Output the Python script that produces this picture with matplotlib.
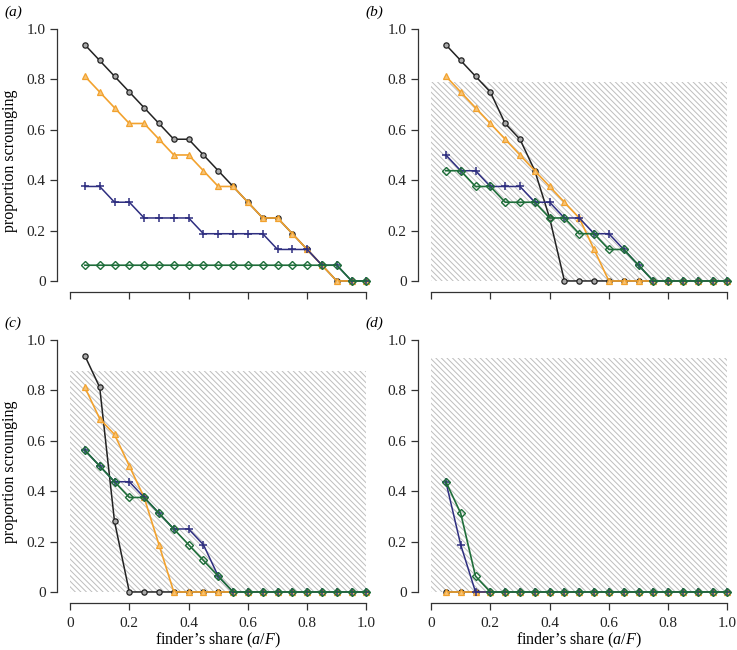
import numpy as np
import matplotlib
matplotlib.use("Agg")
import matplotlib.pyplot as plt
from matplotlib.patches import Rectangle

plt.rcParams['font.family'] = ['Liberation Serif', 'DejaVu Serif']
plt.rcParams['mathtext.fontset'] = 'custom'
plt.rcParams['mathtext.rm'] = 'Liberation Serif'
plt.rcParams['mathtext.it'] = 'Liberation Serif:italic'
plt.rcParams['hatch.color'] = '#bdbdbd'
plt.rcParams['hatch.linewidth'] = 0.7

share = [0.05, 0.10, 0.15, 0.20, 0.25, 0.30, 0.35, 0.40, 0.45, 0.50,
         0.55, 0.60, 0.65, 0.70, 0.75, 0.80, 0.85, 0.90, 0.95, 1.00]

# panel (a)
a_black  = [0.9375, 0.875, 0.8125, 0.75, 0.6875, 0.625, 0.5625, 0.5625, 0.5, 0.4375,
            0.375, 0.3125, 0.25, 0.25, 0.1875, 0.125, 0.0625, 0, 0, 0]
a_orange = [0.8125, 0.75, 0.6875, 0.625, 0.625, 0.5625, 0.5, 0.5, 0.4375, 0.375,
            0.375, 0.3125, 0.25, 0.25, 0.1875, 0.125, 0.0625, 0, 0, 0]
a_blue   = [0.375, 0.375, 0.3125, 0.3125, 0.25, 0.25, 0.25, 0.25, 0.1875, 0.1875,
            0.1875, 0.1875, 0.1875, 0.125, 0.125, 0.125, 0.0625, 0.0625, 0, 0]
a_green  = [0.0625, 0.0625, 0.0625, 0.0625, 0.0625, 0.0625, 0.0625, 0.0625, 0.0625, 0.0625,
            0.0625, 0.0625, 0.0625, 0.0625, 0.0625, 0.0625, 0.0625, 0.0625, 0, 0]

# panel (b)
b_black  = [0.9375, 0.875, 0.8125, 0.75, 0.625, 0.5625, 0.4375, 0.25, 0, 0,
            0, 0, 0, 0, 0, 0, 0, 0, 0, 0]
b_orange = [0.8125, 0.75, 0.6875, 0.625, 0.5625, 0.5, 0.4375, 0.375, 0.3125, 0.25,
            0.125, 0, 0, 0, 0, 0, 0, 0, 0, 0]
b_blue   = [0.5, 0.4375, 0.4375, 0.375, 0.375, 0.375, 0.3125, 0.3125, 0.25, 0.25,
            0.1875, 0.1875, 0.125, 0.0625, 0, 0, 0, 0, 0, 0]
b_green  = [0.4375, 0.4375, 0.375, 0.375, 0.3125, 0.3125, 0.3125, 0.25, 0.25, 0.1875,
            0.1875, 0.125, 0.125, 0.0625, 0, 0, 0, 0, 0, 0]

# panel (c)
c_black  = [0.9375, 0.8125, 0.28, 0, 0, 0, 0, 0, 0, 0,
            0, 0, 0, 0, 0, 0, 0, 0, 0, 0]
c_orange = [0.8125, 0.6875, 0.625, 0.5, 0.375, 0.1875, 0, 0, 0, 0,
            0, 0, 0, 0, 0, 0, 0, 0, 0, 0]
c_blue   = [0.5625, 0.5, 0.4375, 0.4375, 0.375, 0.3125, 0.25, 0.25, 0.1875, 0.0625,
            0, 0, 0, 0, 0, 0, 0, 0, 0, 0]
c_green  = [0.5625, 0.5, 0.4375, 0.375, 0.375, 0.3125, 0.25, 0.1875, 0.125, 0.0625,
            0, 0, 0, 0, 0, 0, 0, 0, 0, 0]

# panel (d)
d_black  = [0] * 20
d_orange = [0] * 20
d_blue   = [0.4375, 0.1875, 0, 0, 0, 0, 0, 0, 0, 0,
            0, 0, 0, 0, 0, 0, 0, 0, 0, 0]
d_green  = [0.4375, 0.3125, 0.0625, 0, 0, 0, 0, 0, 0, 0,
            0, 0, 0, 0, 0, 0, 0, 0, 0, 0]

hatch_top = [None, 0.79, 0.875, 0.93]
panel_labels = ['(a)', '(b)', '(c)', '(d)']
yticks = [0, 0.2, 0.4, 0.6, 0.8, 1.0]
ytick_labels = ['0', '0.2', '0.4', '0.6', '0.8', '1.0']
xticks = [0, 0.2, 0.4, 0.6, 0.8, 1.0]
xtick_labels = ['0', '0.2', '0.4', '0.6', '0.8', '1.0']

panels = [
    (a_black, a_orange, a_blue, a_green),
    (b_black, b_orange, b_blue, b_green),
    (c_black, c_orange, c_blue, c_green),
    (d_black, d_orange, d_blue, d_green),
]

BLACK = '#222222'
ORANGE = '#f2a22e'
BLUE = '#2e2e80'
GREEN = '#1f6e3a'

fig = plt.figure(figsize=(7.37, 6.5), dpi=100)
W, H = 737.0, 650.0
pos = [
    (56.7, 292.3),   # (left px, bottom px)
    (417.7, 292.3),
    (56.7, 603.3),
    (417.7, 603.3),
]
aw, ah = 315.7, 263.3

for i, (bk, orr, bl, gr) in enumerate(panels):
    lx, by = pos[i]
    ax = fig.add_axes([lx / W, 1 - by / H, aw / W, ah / H])
    ax.set_xlim(-0.045, 1.02)
    ax.set_ylim(-0.045, 1.0)
    if hatch_top[i] is not None:
        ax.add_patch(Rectangle((0, 0), 1.0, hatch_top[i], facecolor='none',
                               edgecolor='#bdbdbd', linewidth=0,
                               hatch='\\\\\\\\\\\\', zorder=0))
    ax.plot(share, bk, color=BLACK, lw=1.1, marker='o', ms=3.8, mfc='#aaaaaa',
            mec=BLACK, mew=0.9, zorder=2)
    ax.plot(share, orr, color=ORANGE, lw=1.2, marker='^', ms=4.5, mfc='#f7c478',
            mec=ORANGE, mew=0.9, zorder=3)
    ax.plot(share, bl, color=BLUE, lw=1.1, marker='+', ms=6, mew=1.1, zorder=4)
    ax.plot(share, gr, color=GREEN, lw=1.2, marker='D', ms=3.6, mfc='none',
            mec=GREEN, mew=1.0, zorder=5)

    for s in ['top', 'right']:
        ax.spines[s].set_visible(False)
    ax.spines['left'].set_bounds(0, 1.0)
    ax.spines['bottom'].set_bounds(0, 1.0)
    for s in ['left', 'bottom']:
        ax.spines[s].set_color('#333333')
        ax.spines[s].set_linewidth(0.9)
    ax.set_yticks(yticks)
    ax.set_yticklabels(ytick_labels)
    ax.set_xticks(xticks)
    if i >= 2:
        ax.set_xticklabels(xtick_labels)
        ax.tick_params(axis='x', pad=5)
        fig.text((lx + 13.3 + 0.5 * 296.5) / W, 1 - 640.5 / H,
                 'finder\u2019s share ($a/F$)', fontsize=11.5,
                 ha='center', va='center')
    else:
        ax.set_xticklabels([])
    if i % 2 == 0:
        ax.set_ylabel('proportion scrounging', fontsize=11.5, labelpad=6)
    ax.tick_params(direction='out', length=5, width=0.9, color='#333333',
                   labelsize=11, labelcolor='#222222')
    ax.tick_params(axis='y', pad=3)
    fig.text((lx - 52) / W, 1 - (by - 280) / H, panel_labels[i], fontsize=11,
             fontstyle='italic', ha='left', va='center')

fig.savefig('out.png', dpi=100)
